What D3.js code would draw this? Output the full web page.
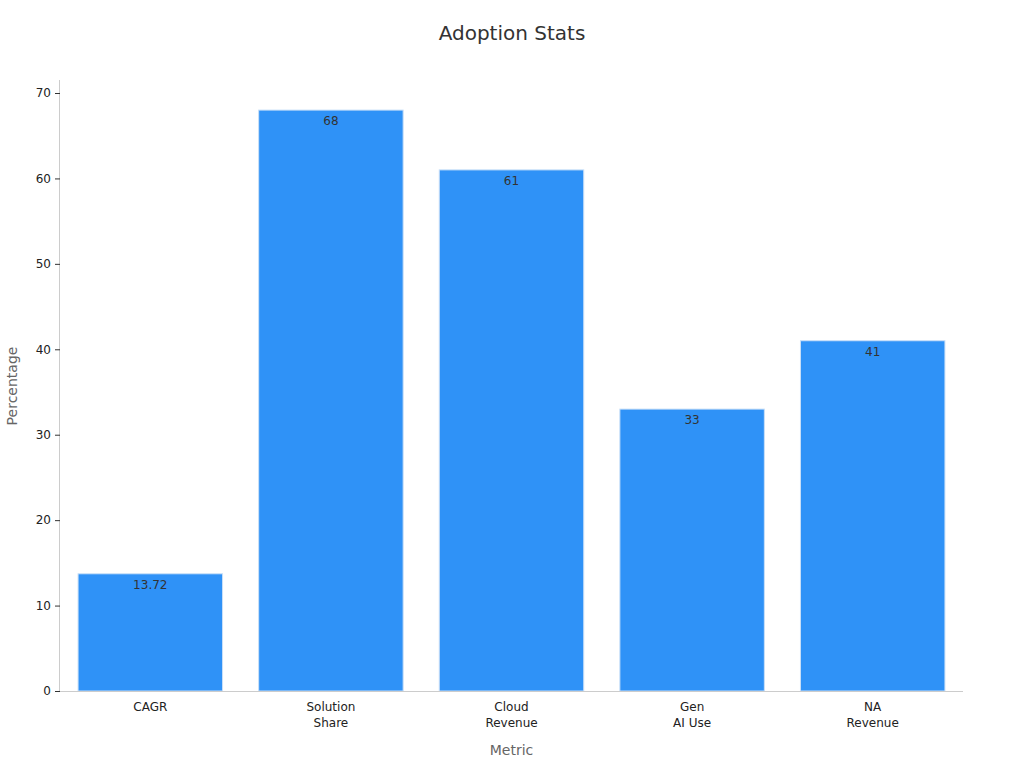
<!DOCTYPE html>
<html>
<head>
<meta charset="utf-8">
<script src="https://cdn.jsdelivr.net/npm/d3@7"></script>
<style>
  body { margin: 0; background: #fff; font-family: "DejaVu Sans", sans-serif; }
</style>
</head>
<body>
<svg id="chart" width="1024" height="768"></svg>
<script>
// chart data
const categories = [["CAGR"], ["Solution", "Share"], ["Cloud", "Revenue"], ["Gen", "AI Use"], ["NA", "Revenue"]];
const values = [13.72, 68, 61, 33, 41];
const yTicks = [0, 10, 20, 30, 40, 50, 60, 70];

const margin = { top: 80, right: 61, bottom: 77, left: 60 };
const width = 1024, height = 768;
const svg = d3.select('#chart');

const keys = categories.map((c) => c.join(' '));
const xScale = d3.scaleBand().domain(keys).range([margin.left, width - margin.right]).paddingInner(0.2).paddingOuter(0.1);
const yScale = d3.scaleLinear().domain([0, 70]).range([height - margin.bottom, 93]);

svg.append('text').attr('x', 512).attr('y', 40).attr('text-anchor', 'middle')
  .style('font-size', '20px').style('fill', '#333').text('Adoption Stats');

// bars
svg.append('g').selectAll('rect').data(values).join('rect')
  .attr('x', (d, i) => xScale(keys[i]))
  .attr('y', (d) => yScale(d))
  .attr('width', xScale.bandwidth())
  .attr('height', (d) => yScale(0) - yScale(d))
  .attr('fill', '#2f92f7')
  .attr('stroke', '#c9dff7').attr('stroke-width', 1);

svg.append('g').selectAll('text').data(values).join('text')
  .attr('x', (d, i) => xScale(keys[i]) + xScale.bandwidth() / 2)
  .attr('y', (d) => yScale(d) + 15)
  .attr('text-anchor', 'middle')
  .style('font-size', '12px').style('fill', '#333')
  .text((d) => d);

// y axis
const yAxis = svg.append('g').attr('transform', `translate(${margin.left},0)`)
  .call(d3.axisLeft(yScale).tickValues(yTicks).tickSize(5).tickPadding(4));
yAxis.select('.domain').attr('d', `M-0.5,${yScale(0)}V${margin.top}`).attr('stroke', '#ccc');
yAxis.selectAll('.tick line').attr('stroke', '#333');
yAxis.selectAll('.tick text').style('font-size', '12px').style('fill', '#222').style('font-family', 'DejaVu Sans');

// x axis
const xAxis = svg.append('g').attr('transform', `translate(0,${yScale(0)})`)
  .call(d3.axisBottom(xScale).tickSize(0).tickPadding(10).tickFormat(''));
xAxis.select('.domain').attr('d', `M${margin.left},0.5H${width - margin.right}`).attr('stroke', '#ccc');
xAxis.selectAll('.tick').each(function (d, i) {
  const t = d3.select(this).append('text').attr('y', 20).attr('text-anchor', 'middle')
    .style('font-size', '12px').style('fill', '#222').style('font-family', 'DejaVu Sans');
  categories[i].forEach((line, j) => t.append('tspan').attr('x', 0).attr('dy', j ? 16 : 0).text(line));
});

svg.append('text').attr('x', (margin.left + width - margin.right) / 2).attr('y', 755)
  .attr('text-anchor', 'middle').style('font-size', '14px').style('fill', '#666').text('Metric');
svg.append('text').attr('transform', `translate(17,386) rotate(-90)`)
  .attr('text-anchor', 'middle').style('font-size', '14px').style('fill', '#666').text('Percentage');
</script>
</body>
</html>
